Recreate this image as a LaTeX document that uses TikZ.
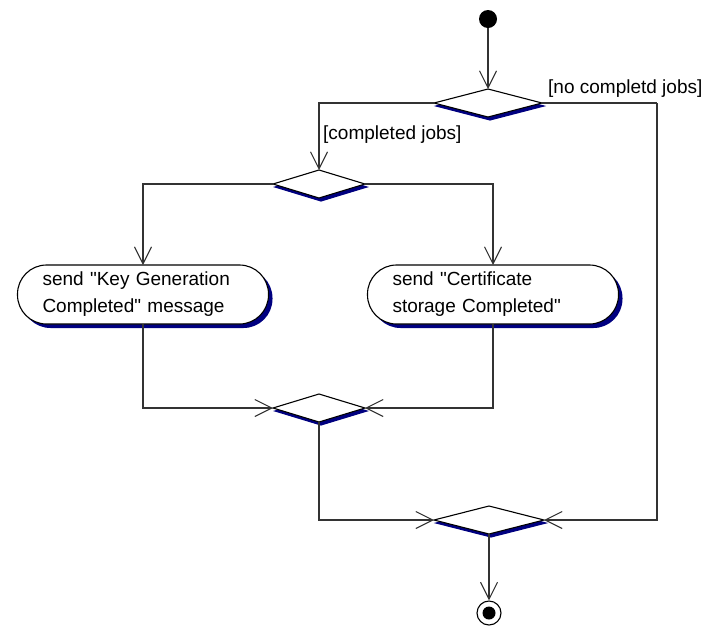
\documentclass[tikz,border=0pt]{standalone}
\usepackage{fontspec}
\setmainfont{Liberation Sans}[Ligatures=TeXOff]
\usetikzlibrary{arrows.meta,shapes.geometric,shadows}
\definecolor{shadowblue}{RGB}{0,0,128}
\newcommand{\dquote}{{\char34}}
\begin{document}
\begin{tikzpicture}[x=1pt,y=-1pt,
  every node/.style={font=\fontsize{19}{27}\selectfont},
  line/.style={line width=1.1pt,draw=black!80},
  arr/.style={line, -{Straight Barb[length=17pt,width=17pt]}},
  decision/.style={diamond, draw=black, line width=1.1pt, fill=white, inner sep=0pt, outer sep=0pt,
    minimum width=#1, minimum height=28pt,
    general shadow={fill=shadowblue, draw=shadowblue, shadow xshift=2pt, shadow yshift=-3pt}},
  activity/.style={draw=black, line width=1.1pt, fill=white, rounded corners=29pt,
    minimum width=251pt, minimum height=59pt, text width=201pt, inner xsep=25pt, align=left,
    outer sep=0pt,
    general shadow={fill=shadowblue, shadow xshift=4pt, shadow yshift=-4pt}},
  guard/.style={anchor=west, inner sep=0pt}
]
\useasboundingbox (0,0) rectangle (712,625);
\node[circle, fill=black, minimum size=18pt, inner sep=0pt] (start) at (488,19) {};
\node[decision=108pt] (d1) at (488,103) {};
\node[decision=92pt] (d2) at (319,184) {};
\node[activity] (a1) at (143,294.5) {send \dquote Key Generation\\Completed\dquote{} message};
\node[activity] (a2) at (493,294.5) {send \dquote Certificate\\storage Completed\dquote};
\node[decision=92pt] (d3) at (319,408) {};
\node[decision=110pt] (d4) at (489,520) {};
\node[circle, draw=black, line width=1.1pt, fill=white, minimum size=24pt, inner sep=0pt] (fin) at (489,613) {};
\node[circle, fill=black, minimum size=13pt, inner sep=0pt] (finc) at (fin) {};
\coordinate (c1) at (657,103);

\draw[arr] (start) -- (d1.north);
\draw[arr] (d1.west) -| (d2.north);
\draw[line] (d1.east) -- (c1);
\draw[arr] (c1) |- (d4.east);
\draw[arr] (d2.west) -| (a1.north);
\draw[arr] (d2.east) -| (a2.north);
\draw[arr] (a1.south) |- (d3.west);
\draw[arr] (a2.south) |- (d3.east);
\draw[arr] (d3.south) |- (d4.west);
\draw[arr] (d4.south) -- (fin.north);

\node[guard] (g1) at (323,135) {[completed jobs]};
\node[guard] (g2) at (548,89) {[no completd jobs]};
\end{tikzpicture}
\end{document}
